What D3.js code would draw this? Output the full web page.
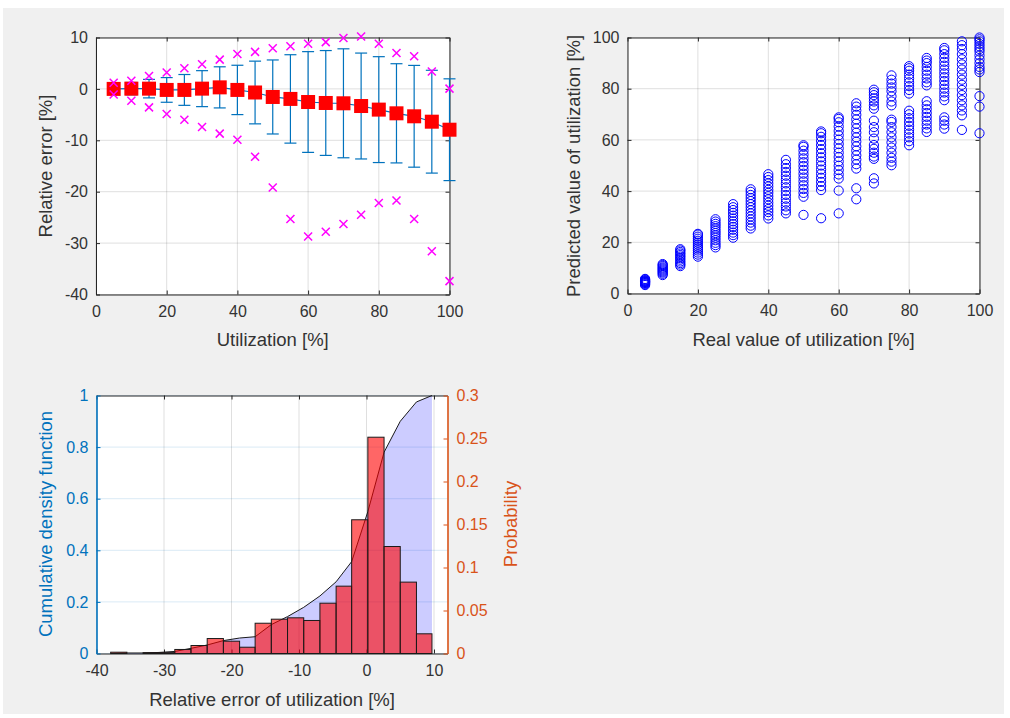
<!DOCTYPE html>
<html>
<head>
<meta charset="utf-8">
<script src="https://cdn.jsdelivr.net/npm/d3@7/dist/d3.min.js"></script>
<style>
  body { margin: 0; background: #fff; }
  svg text { font-family: "Liberation Sans", Arial, Helvetica, sans-serif; }
</style>
</head>
<body>
<div id="chart"></div>
<script>
// ---- data ----

// top left: relative error per utilization level
const utilization = [5, 10, 15, 20, 25, 30, 35, 40, 45, 50, 55, 60, 65, 70, 75, 80, 85, 90, 95, 100];
const meanError = [0, 0.05, 0.05, -0.2, -0.2, 0.05, 0.3, -0.2, -0.7, -1.57, -1.95, -2.55, -2.74, -2.8, -3.33, -4.03, -4.75, -5.33, -6.38, -7.94];
const stdError = [0.7, 1.2, 1.8, 2.4, 3.0, 3.5, 4.0, 4.8, 6.1, 7.2, 8.6, 9.8, 10.2, 10.6, 10.3, 10.3, 9.65, 9.9, 10.0, 9.9];
const maxError = [1.2, 1.6, 2.5, 3.2, 4.0, 4.8, 5.7, 6.8, 7.2, 7.9, 8.3, 8.8, 9.1, 9.9, 10.2, 8.8, 7.0, 6.35, 3.4, 0.05];
const minError = [-1.1, -2.3, -3.6, -4.9, -6.0, -7.4, -8.7, -9.9, -13.2, -19.2, -25.3, -28.7, -27.8, -26.3, -24.5, -22.2, -21.7, -25.3, -31.6, -37.4];

// top right: predicted values, one list per real utilization level
const realLevels = [5, 10, 15, 20, 25, 30, 35, 40, 45, 50, 55, 60, 65, 70, 75, 80, 85, 90, 95, 100];
const predictedByLevel = [
  [3.3, 3.6, 3.9, 4.1, 4.3, 4.5, 4.6, 4.8, 5.0, 5.2, 5.5, 5.7],
  [7.2, 7.7, 8.2, 8.6, 9.0, 9.4, 9.8, 10.2, 10.7, 11.1, 11.5],
  [10.7, 11.3, 11.9, 12.5, 13.2, 13.8, 14.4, 15.0, 15.6, 16.2, 16.8, 17.3],
  [14.4, 15.2, 16.0, 16.8, 17.5, 18.2, 19.0, 19.8, 20.6, 21.4, 22.2, 23.0, 23.3],
  [18.0, 18.9, 19.8, 20.8, 21.8, 22.7, 23.6, 24.5, 25.4, 26.3, 27.2, 28.1, 29.0],
  [21.8, 22.8, 23.8, 24.9, 26.0, 27.1, 28.2, 29.3, 30.4, 31.5, 32.6, 33.7, 34.9],
  [25.4, 26.5, 27.7, 28.9, 30.1, 31.3, 32.5, 33.7, 34.9, 36.1, 37.3, 38.5, 39.7, 40.7],
  [29.3, 30.5, 31.8, 33.0, 34.3, 35.5, 36.8, 38.0, 39.3, 40.5, 41.8, 43.0, 44.3, 45.5, 46.6],
  [31.3, 32.5, 34.0, 35.5, 37.0, 38.5, 40.0, 41.5, 43.0, 44.5, 46.0, 47.5, 49.0, 50.5, 52.2],
  [30.7, 37.8, 39.3, 40.8, 42.3, 43.8, 45.3, 46.8, 48.3, 49.8, 51.3, 52.8, 54.3, 55.8, 57.3, 57.9],
  [29.4, 40.4, 42.0, 43.6, 45.2, 46.8, 48.4, 50.0, 51.6, 53.2, 54.8, 56.4, 58.0, 59.6, 61.2, 62.6, 63.3],
  [31.3, 40.2, 44.9, 46.5, 48.2, 49.9, 51.6, 53.3, 55.0, 56.7, 58.4, 60.1, 61.8, 63.5, 65.2, 66.9, 68.2, 68.8],
  [36.8, 41.1, 48.8, 50.5, 52.3, 54.0, 55.8, 57.5, 59.3, 61.0, 62.8, 64.5, 66.3, 68.0, 69.8, 71.5, 73.0, 74.3],
  [43.0, 45.0, 52.6, 53.5, 55.0, 56.5, 58.0, 60.5, 63.0, 65.0, 67.5, 72.2, 73.5, 75.0, 76.2, 77.5, 78.6, 79.6],
  [50.1, 51.5, 53.0, 55.0, 57.0, 59.0, 61.0, 63.0, 65.0, 67.0, 67.9, 73.5, 75.0, 77.0, 79.0, 80.5, 82.0, 83.5, 85.2],
  [57.9, 59.5, 61.0, 62.5, 64.0, 65.5, 67.0, 68.5, 70.0, 71.4, 78.1, 79.5, 81.0, 82.5, 84.0, 85.5, 87.0, 88.0, 88.8],
  [63.1, 64.5, 66.0, 67.5, 69.0, 70.5, 72.0, 73.5, 75.1, 81.3, 82.5, 84.0, 85.5, 87.0, 88.5, 90.0, 91.0, 92.0],
  [64.4, 66.0, 67.5, 68.8, 75.5, 77.0, 78.5, 80.0, 81.5, 83.0, 84.5, 86.0, 87.5, 89.0, 90.5, 92.0, 93.5, 95.0, 95.9],
  [63.9, 69.6, 71.5, 73.5, 75.5, 77.5, 79.5, 81.5, 83.5, 85.5, 87.5, 89.5, 91.5, 93.5, 95.5, 97.0, 98.5],
  [62.6, 73.0, 77.1, 86.5, 87.5, 88.5, 90.0, 91.5, 93.0, 94.5, 95.5, 96.5, 97.5, 98.5, 99.3, 100]
];

// bottom: histogram of the relative error and its cumulative curve
const binEdges = [-37.9, -35.5, -33.1, -30.8, -28.4, -26.0, -23.6, -21.2, -18.8, -16.5, -14.1, -11.7, -9.3, -6.9, -4.5, -2.2, 0.2, 2.6, 5.0, 7.4, 9.7];
const binProbability = [0.0015, 0, 0.001, 0.001, 0.0047, 0.0093, 0.0174, 0.0143, 0.0073, 0.0352, 0.0399, 0.0415, 0.0384, 0.0585, 0.0783, 0.1555, 0.2515, 0.1244, 0.083, 0.0229];
const cdfAtEdges = [0, 0.002, 0.002, 0.004, 0.008, 0.02, 0.033, 0.05, 0.06, 0.065, 0.112, 0.143, 0.179, 0.223, 0.278, 0.356, 0.55, 0.78, 0.9, 0.975, 1.0];

// tick labels
const ticksTL_x = [0, 20, 40, 60, 80, 100];
const ticksTL_y = [-40, -30, -20, -10, 0, 10];
const ticksTR = [0, 20, 40, 60, 80, 100];
const ticksB_x = [-40, -30, -20, -10, 0, 10];
const ticksB_left = [0, 0.2, 0.4, 0.6, 0.8, 1];
const ticksB_right = [0, 0.05, 0.1, 0.15, 0.2, 0.25, 0.3];

// ---- drawing ----
const width = 1010, height = 718;
const dark = "#262626", textCol = "#333", blueAx = "#0072bd", orangeAx = "#d95319";
const tickLen = 4, tickFont = "16px", labelFont = "18.5px";
const plain = d => String(d);   // hyphen minus, no trailing zeros

const svg = d3.select("#chart").append("svg")
  .attr("width", width)
  .attr("height", height);

svg.append("rect")
  .attr("x", 3).attr("y", 8)
  .attr("width", 1001).attr("height", 706)
  .attr("fill", "#f0f0f0");

// white plot area, grid, box and ticks like a MATLAB axes
function axesFrame(x, y, xt, yt, opt) {
  opt = opt || {};
  const [x0, x1] = x.range();
  const [y0, y1] = y.range();
  const g = svg.append("g");

  g.append("rect")
    .attr("x", x0).attr("y", y1)
    .attr("width", x1 - x0).attr("height", y0 - y1)
    .attr("fill", "#fff");

  g.selectAll(".vgrid").data(xt).enter().append("line")
    .attr("x1", d => x(d)).attr("x2", d => x(d))
    .attr("y1", y0).attr("y2", y1)
    .attr("stroke", dark).attr("stroke-opacity", 0.15);

  g.selectAll(".hgrid").data(yt).enter().append("line")
    .attr("x1", x0).attr("x2", x1)
    .attr("y1", d => y(d)).attr("y2", d => y(d))
    .attr("stroke", opt.hGridColor || dark).attr("stroke-opacity", 0.15);

  const bottom = g.append("g")
    .attr("transform", `translate(0,${y0})`)
    .call(d3.axisBottom(x).tickValues(xt).tickSize(-tickLen).tickSizeOuter(0).tickPadding(11).tickFormat(plain));
  const top = g.append("g")
    .attr("transform", `translate(0,${y1})`)
    .call(d3.axisTop(x).tickValues(xt).tickSize(-tickLen).tickSizeOuter(0).tickFormat(""));
  const left = g.append("g")
    .attr("transform", `translate(${x0},0)`)
    .call(d3.axisLeft(y).tickValues(yt).tickSize(-tickLen).tickSizeOuter(0).tickPadding(8).tickFormat(plain));

  [bottom, top, left].forEach(a => {
    a.selectAll("path, line").attr("stroke", dark);
    a.selectAll("text").attr("fill", textCol).style("font-size", tickFont);
  });

  if (!opt.noRight) {
    const right = g.append("g")
      .attr("transform", `translate(${x1},0)`)
      .call(d3.axisRight(y).tickValues(yt).tickSize(-tickLen).tickSizeOuter(0).tickFormat(""));
    right.selectAll("path, line").attr("stroke", dark);
  }
  return { g, left };
}

function xLabel(text, cx, yy) {
  svg.append("text")
    .attr("x", cx).attr("y", yy)
    .attr("text-anchor", "middle")
    .attr("fill", textCol)
    .style("font-size", labelFont)
    .text(text);
}

function yLabel(text, xx, cy, color) {
  svg.append("text")
    .attr("transform", `translate(${xx},${cy}) rotate(-90)`)
    .attr("text-anchor", "middle")
    .attr("fill", color || textCol)
    .style("font-size", labelFont)
    .text(text);
}

// Relative error vs utilization
(function() {
  const x = d3.scaleLinear().domain([0, 100]).range([96, 449.5]);
  const y = d3.scaleLinear().domain([-40, 10]).range([294.5, 37.5]);
  axesFrame(x, y, ticksTL_x, ticksTL_y);

  const pts = utilization.map((u, i) => ({ u, m: meanError[i], s: stdError[i], hi: maxError[i], lo: minError[i] }));
  const g = svg.append("g");

  g.append("path")
    .datum(pts)
    .attr("fill", "none")
    .attr("stroke", blueAx)
    .attr("stroke-width", 1.2)
    .attr("d", d3.line().x(d => x(d.u)).y(d => y(d.m)));

  const bars = g.selectAll(".err").data(pts).enter().append("g")
    .attr("stroke", blueAx).attr("stroke-width", 1.2);
  bars.append("line")
    .attr("x1", d => x(d.u)).attr("x2", d => x(d.u))
    .attr("y1", d => y(d.m - d.s)).attr("y2", d => y(d.m + d.s));
  bars.append("line")
    .attr("x1", d => x(d.u) - 6).attr("x2", d => x(d.u) + 6)
    .attr("y1", d => y(d.m - d.s)).attr("y2", d => y(d.m - d.s));
  bars.append("line")
    .attr("x1", d => x(d.u) - 6).attr("x2", d => x(d.u) + 6)
    .attr("y1", d => y(d.m + d.s)).attr("y2", d => y(d.m + d.s));

  g.selectAll(".sq").data(pts).enter().append("rect")
    .attr("x", d => x(d.u) - 7).attr("y", d => y(d.m) - 7)
    .attr("width", 14).attr("height", 14)
    .attr("fill", "#ff0000");

  // max and min markers
  const ext = pts.flatMap(d => [{ u: d.u, v: d.hi }, { u: d.u, v: d.lo }]);
  g.selectAll(".mx").data(ext).enter().append("path")
    .attr("transform", d => `translate(${x(d.u)},${y(d.v)})`)
    .attr("d", "M-4,-4L4,4M-4,4L4,-4")
    .attr("fill", "none")
    .attr("stroke", "#ff00ff")
    .attr("stroke-width", 1.5);

  xLabel("Utilization [%]", 272.7, 345.5);
  yLabel("Relative error [%]", 51.5, 166);
})();

// Predicted vs real utilization
(function() {
  const x = d3.scaleLinear().domain([0, 100]).range([627.5, 979.5]);
  const y = d3.scaleLinear().domain([0, 100]).range([293.5, 37.5]);
  axesFrame(x, y, ticksTR, ticksTR);

  const pts = realLevels.flatMap((r, i) => predictedByLevel[i].map(p => ({ r, p })));
  svg.append("g").selectAll("circle").data(pts).enter().append("circle")
    .attr("cx", d => x(d.r))
    .attr("cy", d => y(d.p))
    .attr("r", 4.6)
    .attr("fill", "none")
    .attr("stroke", "#0000ff")
    .attr("stroke-width", 1);

  xLabel("Real value of utilization [%]", 803.5, 345.5);
  yLabel("Predicted value of utilization [%]", 579.5, 166);
})();

// Histogram of relative error with cumulative curve
(function() {
  const x = d3.scaleLinear().domain([-40, 12]).range([96.5, 447.5]);
  const yL = d3.scaleLinear().domain([0, 1]).range([653.5, 395.5]);
  const yR = d3.scaleLinear().domain([0, 0.3]).range([653.5, 395.5]);

  const frame = axesFrame(x, yL, ticksB_x, ticksB_left, { noRight: true, hGridColor: blueAx });
  frame.left.selectAll("path, line").attr("stroke", blueAx);
  frame.left.select("path").attr("stroke-width", 1.6);
  frame.left.selectAll("text").attr("fill", blueAx);

  const cdf = binEdges.map((e, i) => ({ e, c: cdfAtEdges[i] }));
  const g = svg.append("g");
  g.append("path")
    .datum(cdf)
    .attr("fill", "#0000ff")
    .attr("fill-opacity", 0.2)
    .attr("d", d3.area().x(d => x(d.e)).y0(yL(0)).y1(d => yL(d.c)));
  g.append("path")
    .datum(cdf)
    .attr("fill", "none")
    .attr("stroke", "#1a1a1a")
    .attr("stroke-width", 1)
    .attr("d", d3.line().x(d => x(d.e)).y(d => yL(d.c)));

  const bins = binProbability.map((p, i) => ({ x0: binEdges[i], x1: binEdges[i + 1], p }));
  g.selectAll(".bar").data(bins.filter(d => d.p > 0)).enter().append("rect")
    .attr("x", d => x(d.x0))
    .attr("y", d => yR(d.p))
    .attr("width", d => x(d.x1) - x(d.x0))
    .attr("height", d => yR(0) - yR(d.p))
    .attr("fill", "#ff0000")
    .attr("fill-opacity", 0.6)
    .attr("stroke", "#1a1a1a")
    .attr("stroke-width", 1);

  const right = svg.append("g")
    .attr("transform", `translate(447.5,0)`)
    .call(d3.axisRight(yR).tickValues(ticksB_right).tickSize(-tickLen).tickSizeOuter(0).tickPadding(9).tickFormat(plain));
  right.selectAll("path, line").attr("stroke", orangeAx);
  right.select("path").attr("stroke-width", 1.6);
  right.selectAll("text").attr("fill", orangeAx).style("font-size", tickFont);

  xLabel("Relative error of utilization [%]", 272, 705.5);
  yLabel("Cumulative density function", 51.5, 524, blueAx);
  yLabel("Probability", 516.5, 524, orangeAx);
})();
</script>
</body>
</html>
